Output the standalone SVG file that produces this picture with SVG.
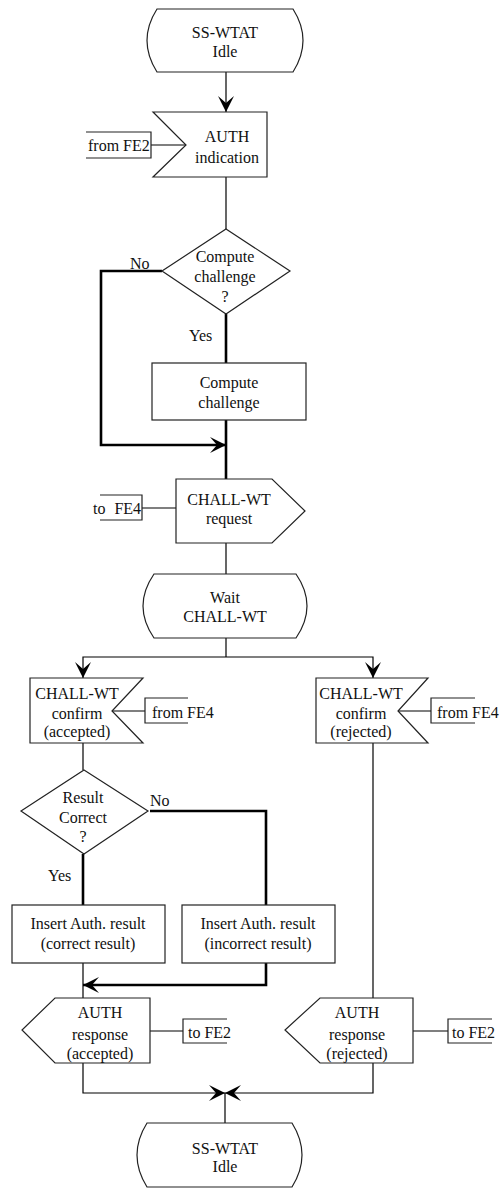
<svg xmlns="http://www.w3.org/2000/svg" width="501" height="1188" viewBox="0 0 501 1188" font-family="'Liberation Serif', 'Times New Roman', Times, serif" font-size="16">
<style>
.shape{fill:#fff;stroke:#222;stroke-width:1.2}
.thin{fill:none;stroke:#000;stroke-width:1.2}
.thick{fill:none;stroke:#000;stroke-width:2.6}
.br{fill:none;stroke:#222;stroke-width:1.2}
text{font-family:'Liberation Serif','Times New Roman',Times,serif;font-size:16px;fill:#111}
.c{text-anchor:middle}
</style>
<defs>
<marker id="arr" viewBox="-17 -9 18 18" refX="0" refY="0" markerWidth="18" markerHeight="18" markerUnits="userSpaceOnUse" orient="auto">
<path d="M0,0 L-16,-8 L-9,0 L-16,8 Z" fill="#000"/>
</marker>
</defs>
<rect width="501" height="1188" fill="#fff"/>
<g id="connectors">
<path class="thin" d="M226,72 V112" marker-end="url(#arr)"/>
<path class="thin" d="M226,177 V229"/>
<path class="thick" d="M226,314 V363"/>
<path class="thick" d="M162,271 H101 V445 H226" marker-end="url(#arr)"/>
<path class="thick" d="M226,420 V479"/>
<path class="thin" d="M226,543 V574"/>
<path class="thin" d="M226,638 V657"/>
<path class="thin" d="M226,657 H83 V678" marker-end="url(#arr)"/>
<path class="thin" d="M226,657 H373 V678" marker-end="url(#arr)"/>
<path class="thin" d="M83,743 V770"/>
<path class="thick" d="M83,854 V905"/>
<path class="thick" d="M150,811 H266 V905"/>
<path class="thin" d="M83,963 V998"/>
<path class="thick" d="M266,963 V985 H83" marker-end="url(#arr)"/>
<path class="thin" d="M373,743 V998"/>
<path class="thin" d="M83,1063 V1093 H225" marker-end="url(#arr)"/>
<path class="thin" d="M373,1063 V1093 H225" marker-end="url(#arr)"/>
<path class="thin" d="M225,1093 V1123"/>
<path class="thin" d="M151,145 H186"/>
<path class="thin" d="M142,508 H176"/>
<path class="thin" d="M112,711 H145"/>
<path class="thin" d="M398,711 H431"/>
<path class="thin" d="M150,1031 H183"/>
<path class="thin" d="M413,1031 H448"/>
</g>
<g id="start_idle">
<path class="shape" d="M157,9 L293,9 Q313,40.5 293,72 L157,72 Q137,40.5 157,9 Z"/>
<text class="c" x="225" y="38">SS-WTAT</text>
<text class="c" x="225" y="57">Idle</text>
</g>
<g id="auth_indication">
<path class="shape" d="M153,112 L267,112 L267,177 L153,177 L186,145 Z"/>
<text class="c" x="227" y="142">AUTH</text>
<text class="c" x="227" y="163">indication</text>
</g>
<g id="from_fe2">
<path class="br" d="M86,132 H151 V158 H86"/>
<text x="88" y="151">from FE2</text>
</g>
<g id="decision_compute">
<path class="shape" d="M226,229 L290,271 L226,314 L162,271 Z"/>
<text class="c" x="225" y="262">Compute</text>
<text class="c" x="225" y="282">challenge</text>
<text class="c" x="225" y="302">?</text>
<text x="130" y="269">No</text>
<text x="189" y="341">Yes</text>
</g>
<g id="compute_challenge">
<rect class="shape" x="152" y="363" width="154" height="57"/>
<text class="c" x="229" y="388">Compute</text>
<text class="c" x="229" y="408">challenge</text>
</g>
<g id="chall_request">
<path class="shape" d="M176,479 L272,479 L305,511 L272,543 L176,543 Z"/>
<text class="c" x="229" y="505">CHALL-WT</text>
<text class="c" x="229" y="524">request</text>
</g>
<g id="to_fe4">
<path class="br" d="M100,495 H142 V520 H100"/>
<text x="93" y="514" word-spacing="5">to FE4</text>
</g>
<g id="wait_chall">
<path class="shape" d="M154,574 L296,574 Q318,606 296,638 L154,638 Q132,606 154,574 Z"/>
<text class="c" x="225" y="603">Wait</text>
<text class="c" x="225" y="622">CHALL-WT</text>
</g>
<g id="confirm_accepted">
<path class="shape" d="M30,678 L143,678 L112,711 L143,743 L30,743 Z"/>
<text class="c" x="77" y="699">CHALL-WT</text>
<text class="c" x="77" y="719">confirm</text>
<text class="c" x="77" y="737">(accepted)</text>
</g>
<g id="from_fe4_a">
<path class="br" d="M188,698 H145 V723 H188"/>
<text x="152" y="718">from FE4</text>
</g>
<g id="confirm_rejected">
<path class="shape" d="M316,678 L428,678 L398,711 L428,743 L316,743 Z"/>
<text class="c" x="361" y="699">CHALL-WT</text>
<text class="c" x="361" y="719">confirm</text>
<text class="c" x="361" y="737">(rejected)</text>
</g>
<g id="from_fe4_r">
<path class="br" d="M475,698 H431 V723 H475"/>
<text x="437" y="718">from FE4</text>
</g>
<g id="decision_result">
<path class="shape" d="M84,770 L148,811 L84,854 L21,811 Z"/>
<text class="c" x="83" y="803">Result</text>
<text class="c" x="83" y="823">Correct</text>
<text class="c" x="83" y="842">?</text>
<text x="150" y="806">No</text>
<text x="48" y="881">Yes</text>
</g>
<g id="insert_correct">
<rect class="shape" x="12" y="905" width="153" height="58"/>
<text class="c" x="88" y="929">Insert Auth. result</text>
<text class="c" x="88" y="949">(correct result)</text>
</g>
<g id="insert_incorrect">
<rect class="shape" x="182" y="905" width="153" height="58"/>
<text class="c" x="258" y="929">Insert Auth. result</text>
<text class="c" x="258" y="949">(incorrect result)</text>
</g>
<g id="response_accepted">
<path class="shape" d="M150,998 L55,998 L22,1030 L55,1063 L150,1063 Z"/>
<text class="c" x="100" y="1018">AUTH</text>
<text class="c" x="100" y="1040">response</text>
<text class="c" x="100" y="1059">(accepted)</text>
</g>
<g id="to_fe2_a">
<path class="br" d="M227,1019 H183 V1043 H227"/>
<text x="188" y="1038">to FE2</text>
</g>
<g id="response_rejected">
<path class="shape" d="M413,998 L320,998 L285,1030 L320,1063 L413,1063 Z"/>
<text class="c" x="357" y="1018">AUTH</text>
<text class="c" x="357" y="1040">response</text>
<text class="c" x="357" y="1059">(rejected)</text>
</g>
<g id="to_fe2_r">
<path class="br" d="M492,1019 H448 V1043 H492"/>
<text x="452" y="1038">to FE2</text>
</g>
<g id="end_idle">
<path class="shape" d="M147,1123 L292,1123 Q312,1155 292,1187 L147,1187 Q127,1155 147,1123 Z"/>
<text class="c" x="225" y="1154">SS-WTAT</text>
<text class="c" x="225" y="1172">Idle</text>
</g>
</svg>
